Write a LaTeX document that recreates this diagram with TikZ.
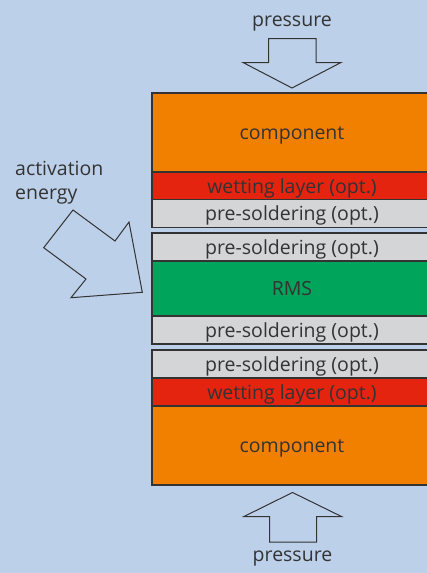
\documentclass[tikz,border=0pt]{standalone}
\usepackage{fontspec}
\setmainfont{Open Sans}
\definecolor{bg}{HTML}{BDD0EA}
\definecolor{comp}{HTML}{F28000}
\definecolor{wet}{HTML}{E5240F}
\definecolor{pre}{HTML}{D4D5D7}
\definecolor{rms}{HTML}{00A45A}
\definecolor{ink}{HTML}{333333}
\begin{document}
\begin{tikzpicture}[x=1pt,y=-1pt,
  layer/.style={draw=ink,line width=1.2pt,anchor=north west,minimum width=280pt,inner sep=0pt,outer sep=0pt,text=ink,text height=16pt,text depth=2pt,font=\fontsize{19.5}{24.5}\selectfont},
  blockarrow/.style={draw=ink,line width=1pt,line join=miter},
  lbl/.style={text=ink,font=\fontsize{19.5}{24.5}\selectfont,inner sep=0pt}]
\useasboundingbox (0,0) rectangle (427,573);
\fill[bg] (0,0) rectangle (427,573);
\begin{scope}
\clip (0,0) rectangle (427,573);
\node[layer,fill=comp,minimum height=79pt] (c1) at (152,93) {component};
\node[layer,fill=wet,minimum height=28pt] (w1) at (152,172) {wetting layer (opt.)};
\node[layer,fill=pre,minimum height=28pt] (p1) at (152,199.5) {pre-soldering (opt.)};
\node[layer,fill=pre,minimum height=28pt] (p2) at (152,233) {pre-soldering (opt.)};
\node[layer,fill=rms,minimum height=55pt] (r) at (152,261) {RMS};
\node[layer,fill=pre,minimum height=28pt] (p3) at (152,316) {pre-soldering (opt.)};
\node[layer,fill=pre,minimum height=28pt] (p4) at (152,350) {pre-soldering (opt.)};
\node[layer,fill=wet,minimum height=28pt] (w2) at (152,378) {wetting layer (opt.)};
\node[layer,fill=comp,minimum height=79pt] (c2) at (152,406) {component};
\end{scope}
% top pressure arrow
\draw[blockarrow] (268.5,38.5) -- (316,38.5) -- (316,62.5) -- (341,62.5) -- (292,88) -- (243,62.5) -- (268.5,62.5) -- cycle;
\node[lbl,anchor=base] (ptop) at (292,26.5) {pressure};
% bottom pressure arrow
\draw[blockarrow] (269.5,542) -- (316.5,542) -- (316.5,516.5) -- (341.5,516.5) -- (292.5,492.5) -- (244,516.5) -- (269.5,516.5) -- cycle;
\node[lbl,anchor=base] (pbot) at (292.5,561.5) {pressure};
% activation energy arrow
\draw[blockarrow] (73,210) -- (115,241) -- (129,222) -- (142.3,292.3) -- (71,297.7) -- (86,279) -- (43.7,247.7) -- cycle;
\node[lbl,anchor=base west] (act1) at (15,175) {activation};
\node[lbl,anchor=base west] (act2) at (15,199.5) {energy};
\end{tikzpicture}
\end{document}
